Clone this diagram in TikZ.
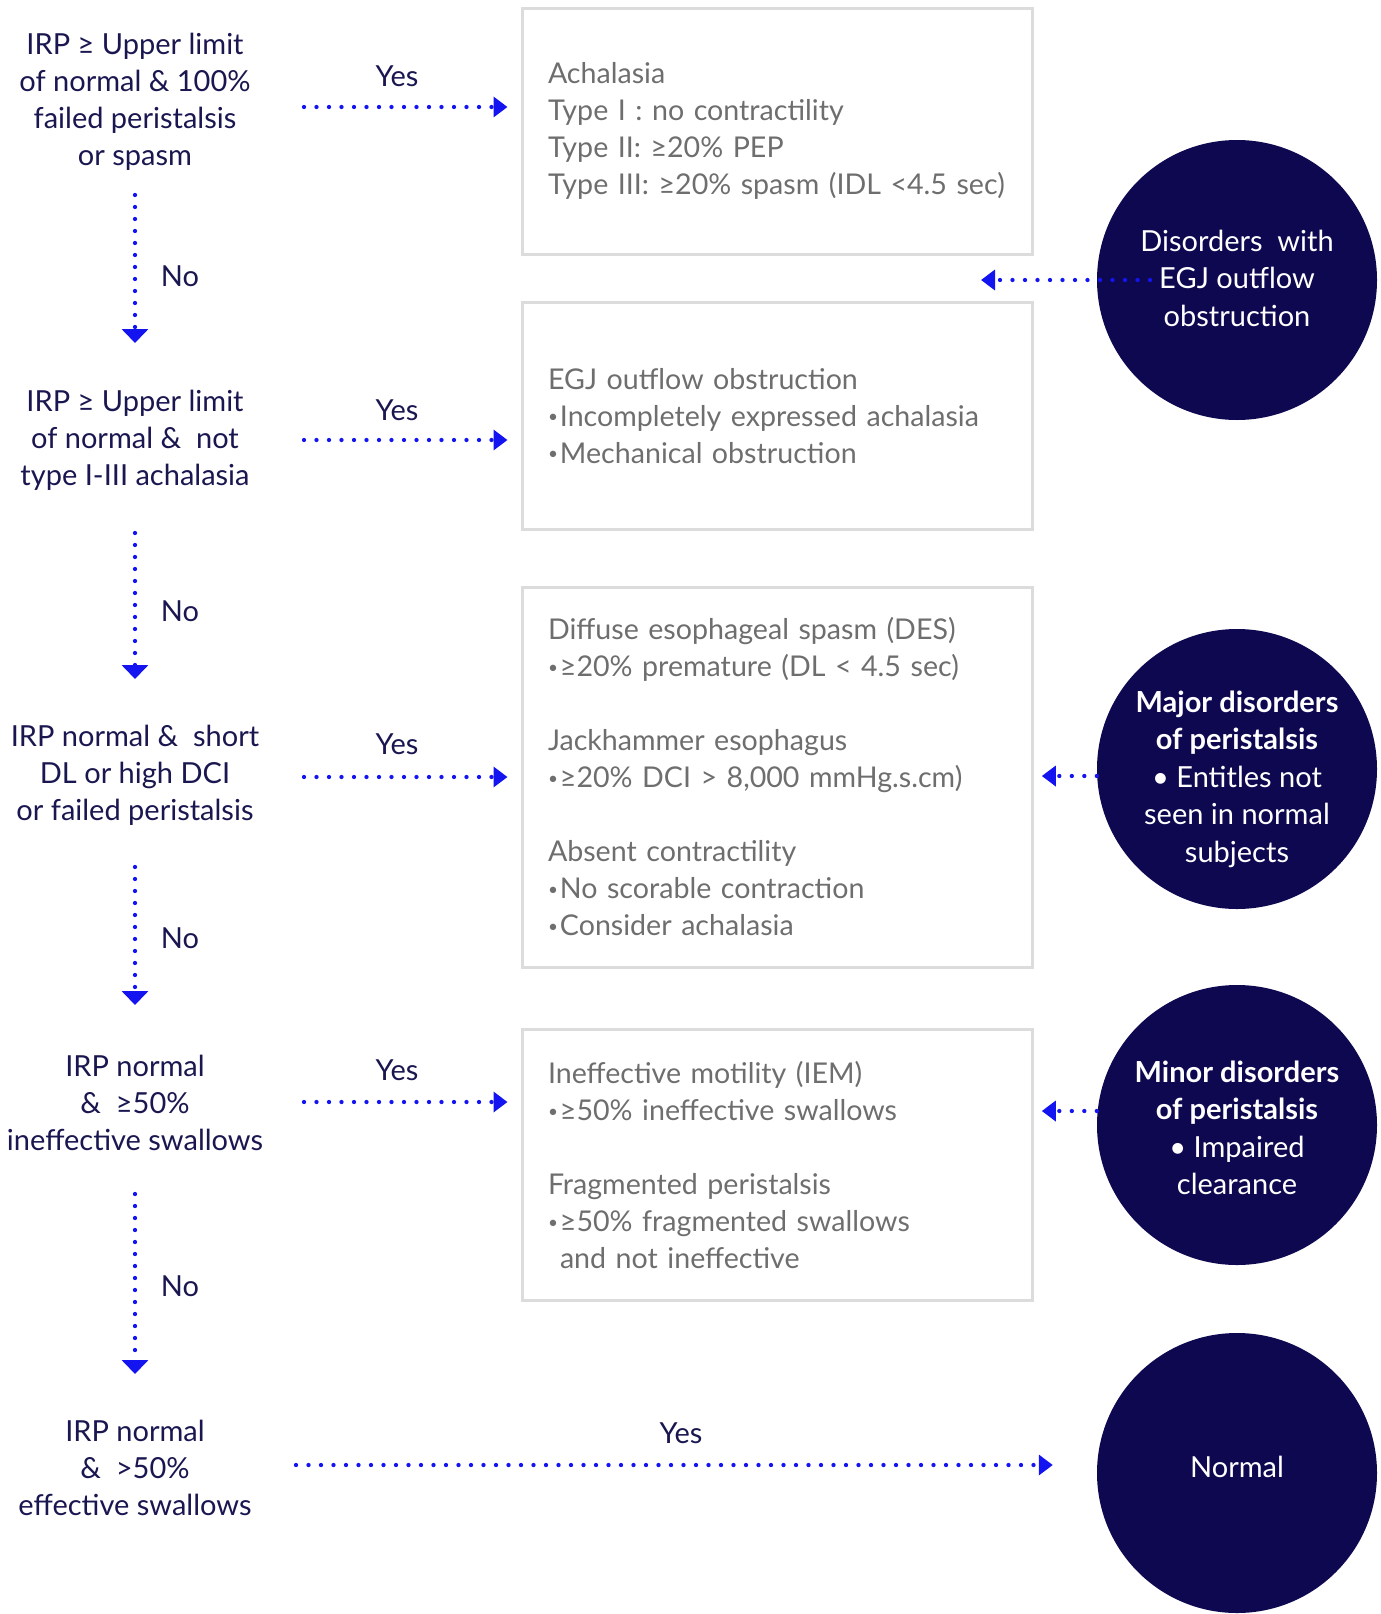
\documentclass[tikz,border=0pt]{standalone}
\usepackage{fontspec}
\setmainfont{Lato}
\usetikzlibrary{arrows.meta}
\definecolor{navy}{HTML}{0E0850}
\definecolor{txt}{HTML}{1A1750}
\definecolor{gtxt}{HTML}{6E6E6E}
\definecolor{bord}{HTML}{DCDCDC}
\definecolor{arr}{HTML}{1414F0}
\newcommand{\bu}{\raisebox{0.12em}{\scalebox{0.6}{•}}\hspace{2pt}}
\begin{document}
\begin{tikzpicture}[x=1pt,y=-1pt,
 every node/.style={font=\fontsize{29}{37}\selectfont, inner sep=0pt},
 q/.style={text=txt, align=center},
 box/.style={draw=bord, line width=3pt, minimum width=510pt, text width=458pt, align=left, text=gtxt, inner xsep=26pt, font=\fontsize{28.6}{37}\selectfont},
 circ/.style={circle, fill=navy, minimum size=280pt},
 ctext/.style={text=white, align=center, font=\fontsize{29}{37.5}\selectfont},
 dn/.style={draw=arr, line width=4.3pt, line cap=round, dash pattern=on 0pt off 12pt, -{Triangle[length=14pt,width=26pt,fill=arr]}},
 rt/.style={draw=arr, line width=4.3pt, line cap=round, dash pattern=on 0pt off 12.5pt, -{Triangle[length=14pt,width=20pt,fill=arr]}},
 lbl/.style={text=txt}]
\useasboundingbox (0,0) rectangle (1381,1614);

% questions
\node[q] (q1) at (135,102) {IRP ≥ Upper limit\\of normal \& 100\%\\failed peristalsis\\or spasm};
\node[q] (q2) at (135,440) {IRP ≥ Upper limit\\of normal \&\ \ not\\type I-III achalasia};
\node[q] (q3) at (135,775) {IRP normal \&\ \ short\\DL or high DCI\\or failed peristalsis};
\node[q] (q4) at (135,1103) {IRP normal\\\&\ \ ≥50\%\\ineffective swallows};
\node[q] (q5) at (135,1468) {IRP normal\\\&\ \ >50\%\\effective swallows};

% boxes
\node[box, minimum height=246pt] (b1) at (777,131) {Achalasia\\Type I : no contractility\\Type II: ≥20\% PEP\\\mbox{Type III: ≥20\% spasm (IDL <4.5 sec)}};
\node[box, minimum height=227pt] (b2) at (777,416) {EGJ outflow obstruction\\\mbox{\bu Incompletely expressed achalasia}\\\bu Mechanical obstruction};
\node[box, minimum height=380pt] (b3) at (777,777) {Diffuse esophageal spasm (DES)\\\mbox{\bu ≥20\% premature (DL < 4.5 sec)}\\[37pt]Jackhammer esophagus\\\mbox{\bu ≥20\% DCI > 8,000 mmHg.s.cm)}\\[37pt]Absent contractility\\\bu No scorable contraction\\\bu Consider achalasia};
\node[box, minimum height=271pt] (b4) at (777,1165) {Ineffective motility (IEM)\\\bu ≥50\% ineffective swallows\\[37pt]Fragmented peristalsis\\\bu ≥50\% fragmented swallows\\\hspace{12pt}and not ineffective};

% circles
\node[circ] (c1) at (1237,280) {};
\node[circ] (c2) at (1237,769) {};
\node[circ] (c3) at (1237,1125) {};
\node[circ] (c4) at (1237,1473) {};
\node[ctext] (t1) at ([yshift=2pt]c1.center) {Disorders\ \ with\\EGJ outflow\\obstruction};
\node[ctext] (t2) at ([yshift=-10pt]c2.center) {\textbf{Major disorders}\\\textbf{of peristalsis}\\• Entitles not\\seen in normal\\subjects};
\node[ctext] (t3) at ([yshift=-3pt]c3.center) {\textbf{Minor disorders}\\\textbf{of peristalsis}\\• Impaired\\clearance};
\node[ctext] (t4) at ([yshift=6pt]c4.center) {Normal};

% No arrows
\draw[dn, shorten <=93pt, shorten >=97pt] (q1.center) -- (q2.center);
\draw[dn, shorten <=93pt, shorten >=96pt] (q2.center) -- (q3.center);
\draw[dn, shorten <=92pt, shorten >=98pt] (q3.center) -- (q4.center);
\draw[dn, shorten <=91pt, shorten >=94pt] (q4.center) -- (q5.center);
\node[lbl] (n1) at (180,276) {No};
\node[lbl] (n2) at (180,611) {No};
\node[lbl] (n3) at (180,938) {No};
\node[lbl] (n4) at (180,1286) {No};

% Yes arrows
\draw[rt, shorten <=169pt, shorten >=13pt] ([yshift=-5pt]q1.center) -- ([yshift=-5pt]q1.center -| b1.west);
\draw[rt, shorten <=169pt, shorten >=13pt] (q2.center) -- (q2.center -| b2.west);
\draw[rt, shorten <=169pt, shorten >=13pt] ([yshift=-2pt]q3.center) -- ([yshift=-2pt]q3.center -| b3.west);
\draw[rt, shorten <=169pt, shorten >=13pt] ([yshift=1pt]q4.center) -- ([yshift=1pt]q4.center -| b4.west);
\draw[rt, shorten <=161pt, shorten >=44pt] ([yshift=3pt]q5.center) -- ([yshift=3pt]q5.center -| c4.west);
\node[lbl] (y1) at (397,76) {Yes};
\node[lbl] (y2) at (397,410) {Yes};
\node[lbl] (y3) at (397,744) {Yes};
\node[lbl] (y4) at (397,1070) {Yes};
\node[lbl] (y5) at (681,1433) {Yes};

% circle arrows
\draw[rt, shorten <=87pt] (c1.center) -- ++(-256,0);
\draw[rt] ([yshift=-7pt]c2.west) -- ++(-55,0);
\draw[rt] ([yshift=14pt]c3.west) -- ++(-55,0);
\end{tikzpicture}
\end{document}
